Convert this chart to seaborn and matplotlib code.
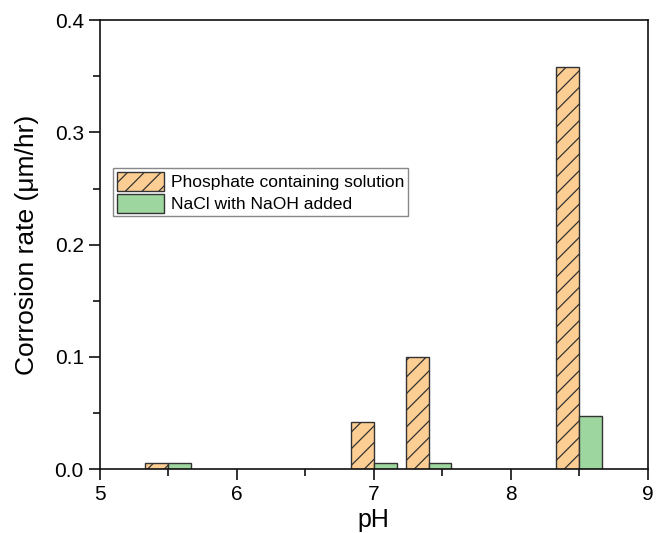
import matplotlib
matplotlib.use("Agg")
import matplotlib.pyplot as plt
from matplotlib.ticker import MultipleLocator
import seaborn as sns
import pandas as pd

ph_values = [5.5, 7.0, 7.4, 8.5]
phosphate_rate = [0.005, 0.042, 0.100, 0.358]
naoh_rate = [0.005, 0.005, 0.005, 0.047]
series_names = ["Phosphate containing solution", "NaCl with NaOH added"]
x_ticks = [5, 6, 7, 8, 9]
y_ticks = [0.0, 0.1, 0.2, 0.3, 0.4]

df = pd.DataFrame({
    "pH": ph_values * 2,
    "rate": phosphate_rate + naoh_rate,
    "Solution": [series_names[0]] * len(ph_values) + [series_names[1]] * len(ph_values),
})

sns.set_style("ticks")
plt.rcParams["font.family"] = ["Liberation Sans", "DejaVu Sans"]
plt.rcParams["hatch.linewidth"] = 0.9
plt.rcParams["text.color"] = "black"
plt.rcParams["axes.labelcolor"] = "black"
plt.rcParams["xtick.color"] = "black"
plt.rcParams["ytick.color"] = "black"

fig = plt.figure(figsize=(6.65, 5.33), dpi=100)
ax = fig.add_axes([0.150, 0.120, 0.824, 0.842])

sns.barplot(data=df, x="pH", y="rate", hue="Solution", native_scale=True,
            width=0.835, palette=["#FDCE93", "#9ED69F"], saturation=1,
            edgecolor="#333333", linewidth=1.0, errorbar=None, ax=ax)

for patch in ax.containers[0]:
    patch.set_hatch("//")

ax.set_xlim(5, 9)
ax.set_ylim(0, 0.4)
ax.set_xticks(x_ticks)
ax.set_xticklabels([str(t) for t in x_ticks])
ax.set_yticks(y_ticks)
ax.set_yticklabels([f"{t:.1f}" for t in y_ticks])
ax.xaxis.set_minor_locator(MultipleLocator(0.5))
ax.yaxis.set_minor_locator(MultipleLocator(0.05))
ax.tick_params(which="major", direction="out", length=8, width=1.2, labelsize=15, color="#111111")
ax.tick_params(which="minor", direction="out", length=5, width=1.2, color="#111111")
for s in ax.spines.values():
    s.set_visible(True)
    s.set_linewidth(1.2)
    s.set_color("#111111")

ax.set_xlabel("pH", fontsize=18, labelpad=3)
ax.set_ylabel("Corrosion rate (\u03bcm/hr)", fontsize=19, labelpad=11)

leg = ax.legend(ax.containers, series_names, loc="upper left",
                bbox_to_anchor=(0.025, 0.670), borderaxespad=0, fontsize=12.6,
                frameon=True, fancybox=False, edgecolor="#888888", framealpha=1,
                handlelength=2.7, handleheight=1.3, handletextpad=0.4,
                labelspacing=0.15, borderpad=0.2)
leg.get_frame().set_linewidth(1.0)

fig.savefig("out.png", dpi=100)
